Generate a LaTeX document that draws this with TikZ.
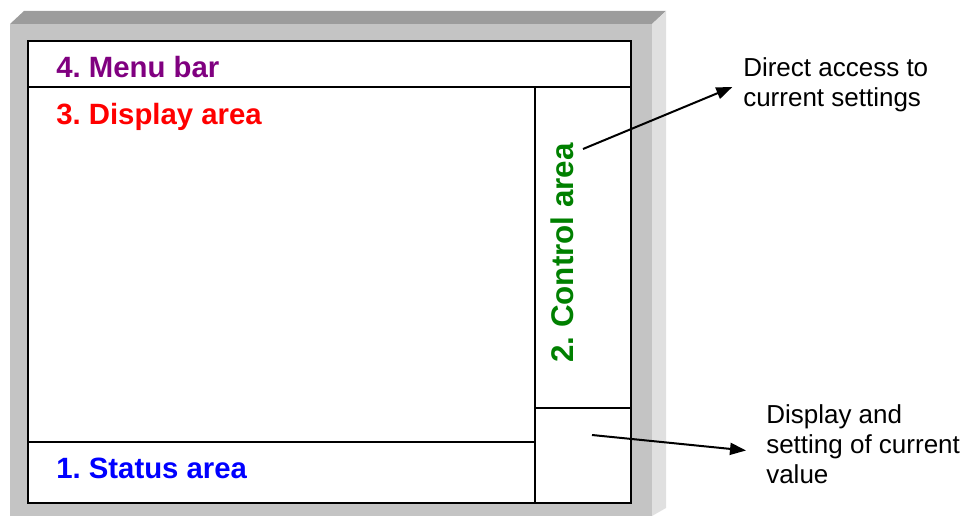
\documentclass[tikz,border=0pt]{standalone}
\usepackage{fontspec}
\setmainfont{Liberation Sans}
\usetikzlibrary{arrows.meta}
\frenchspacing
\definecolor{face}{HTML}{C4C4C4}
\definecolor{topbev}{HTML}{9C9C9C}
\definecolor{rightbev}{HTML}{E0E0E0}
\definecolor{menucol}{HTML}{800080}
\definecolor{dispcol}{HTML}{FF0000}
\definecolor{statcol}{HTML}{0000FF}
\definecolor{ctrlcol}{HTML}{008000}
\tikzset{
  panel/.style={draw=black, line width=1.5pt, fill=white, inner sep=0pt, anchor=north west},
  arealabel/.style={font=\fontsize{22pt}{26pt}\selectfont\bfseries, inner sep=0pt},
  annot/.style={font=\fontsize{19.5pt}{22.5pt}\selectfont, align=left, inner sep=0pt},
  arr/.style={line width=1.5pt, -{Triangle[length=12pt,width=9pt]}}
}
\begin{document}
\begin{tikzpicture}[x=0.75pt,y=-0.75pt]
\useasboundingbox (0,0) rectangle (980,516);
% bevelled frame
\fill[face] (10,24) rectangle (652,516);
\fill[topbev] (10,24) -- (24,11) -- (666,11) -- (652,24) -- cycle;
\fill[rightbev] (652,24) -- (666,11) -- (666,508) -- (652,516) -- cycle;
% panels
\node[panel, minimum width=603*0.75pt, minimum height=46*0.75pt] (menubar) at (27,40) {};
\node[panel, minimum width=507*0.75pt, minimum height=355*0.75pt] (display) at (27,86) {};
\node[panel, minimum width=507*0.75pt, minimum height=61*0.75pt] (status) at (27,441) {};
\node[panel, minimum width=96*0.75pt, minimum height=321*0.75pt] (control) at (534,86) {};
\node[panel, minimum width=96*0.75pt, minimum height=95*0.75pt] (valuebox) at (534,407) {};
% labels
\node[arealabel, text=menucol, anchor=base west] (lmenu) at (56,78) {4. Menu bar};
\node[arealabel, text=dispcol, anchor=base west] (ldisp) at (56,125) {3. Display area};
\node[arealabel, text=statcol, anchor=base west] (lstat) at (56,478) {1. Status area};
\node[arealabel, font=\fontsize{23.5pt}{27pt}\selectfont\bfseries, text=ctrlcol, anchor=base, rotate=90] (lctrl) at (573,253) {2. Control area};
% annotations
\node[annot, anchor=north west] (da) at (743,57) {Direct access to\\current settings};
\node[annot, anchor=north west] (dv) at (766,404) {Display and\\setting of current\\value};
\coordinate (s1) at (583,149);
\coordinate (s2) at (592,435);
\draw[arr] (s1) -- ([xshift=-8pt,yshift=-2pt]da.west);
\draw[arr] (s2) -- ([xshift=-15pt,yshift=-5pt]dv.west);
\end{tikzpicture}
\end{document}
